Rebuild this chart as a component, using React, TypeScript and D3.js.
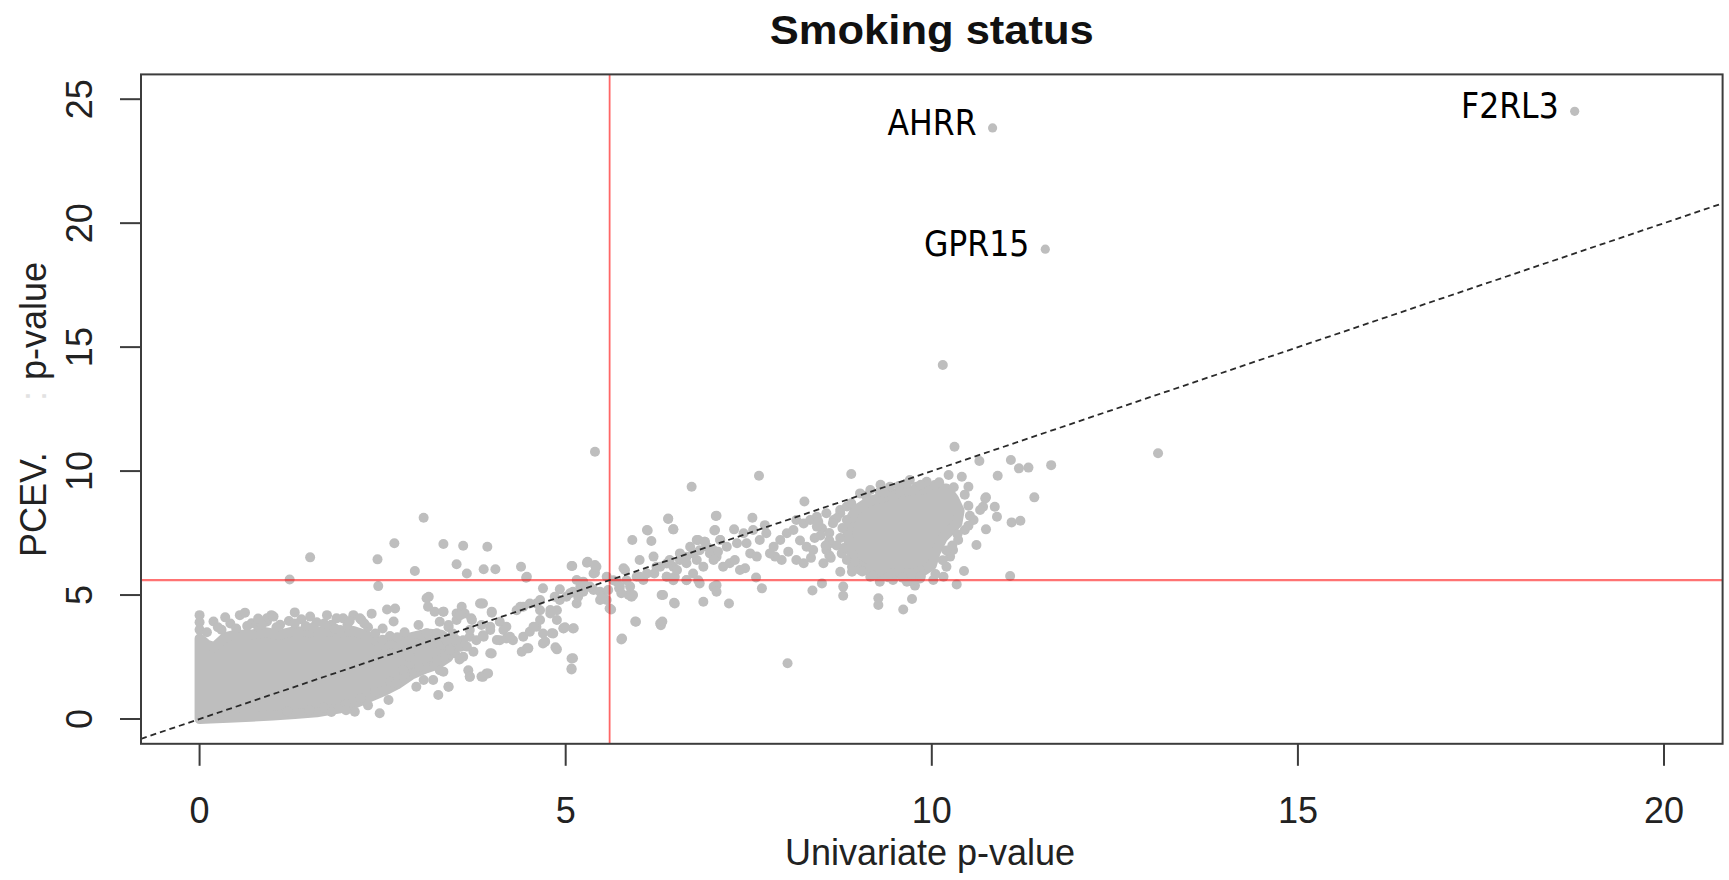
import React from "react";
import * as d3 from "d3";

// ---------- data ----------
const xTicks = [0, 5, 10, 15, 20];
const yTicks = [0, 5, 10, 15, 20, 25];
const xDomain: [number, number] = [-0.8, 20.8];
const yDomain: [number, number] = [-1, 26];
const threshold = 5.6; // -log10(0.05 / 20000)
const titleText = "Smoking status";
const xTitle = "Univariate p-value";

const labeledGenes = ["AHRR", "GPR15", "F2RL3"];
const labeledUni = [10.83, 11.55, 18.78];
const labeledPcev = [23.84, 18.95, 24.51];

// outline of the dense mass of overlapping points near the origin
const denseCoreOutline: [number, number][] = [
  [0, 0], [0, 3.25], [0.1, 3.0], [0.2, 2.9], [0.35, 3.3], [0.5, 3.4], [0.7, 3.4], [0.9, 3.5],
  [1.1, 3.4], [1.3, 3.55], [1.5, 3.5], [1.7, 3.55], [1.9, 3.5], [2.1, 3.55], [2.3, 3.35],
  [2.5, 3.0], [2.7, 3.05], [2.9, 3.3], [3.1, 3.45], [3.3, 3.4], [3.4, 3.2],
  [3.4, 2.5], [3.25, 2.2], [3.1, 2.05], [2.9, 1.8], [2.7, 1.4], [2.5, 1.1], [2.3, 0.85],
  [2.1, 0.6], [1.9, 0.42], [1.6, 0.27], [1.3, 0.2], [1.0, 0.14], [0.7, 0.09], [0.4, 0.05], [0.15, 0.02],
];

// outline of the dense core of the cluster of significant sites
const denseClusterOutline: [number, number][] = [
  [8.95, 8.4], [9.15, 8.8], [9.4, 9.0], [9.65, 9.2], [9.95, 9.3], [10.2, 9.3], [10.3, 8.9],
  [10.38, 8.4], [10.35, 7.9], [10.15, 7.3], [10.05, 6.7], [10.0, 6.2], [9.85, 5.9], [9.5, 5.85],
  [9.2, 5.9], [9.0, 6.2], [8.88, 6.8], [8.85, 7.5], [8.88, 8.0],
];

const lowTailPoints: [number, number][] = [
  [0.0, 4.19], [0.19, 3.93], [0.55, 4.19], [0.62, 4.29], [0.71, 3.86], [0.92, 3.93], [0.98, 4.19],
  [1.39, 4.02], [1.51, 4.13], [1.74, 4.19], [1.96, 4.06], [2.10, 4.19], [2.21, 3.99], [1.92, 3.59],
  [2.56, 4.42], [2.67, 4.46], [2.65, 3.93], [3.10, 4.87], [3.12, 4.53], [3.21, 4.33], [3.33, 4.33],
  [2.99, 3.79], [3.51, 4.26], [0.0, 3.6], [0.0, 3.9], [0.1, 3.5], [0.3, 3.6], [0.42, 3.85], [0.8, 3.7],
  [1.1, 3.8], [1.22, 3.95], [1.6, 3.9], [1.8, 3.8], [2.3, 3.7], [2.4, 3.45], [1.45, 3.75], [2.02, 3.8],
  [0.92, 4.06], [1.01, 4.13], [1.87, 4.06], [2.19, 4.06],
  [0.25, 3.7], [0.5, 3.65], [0.65, 3.75], [0.85, 3.8], [1.05, 3.7], [1.3, 3.85], [1.55, 3.7],
  [1.7, 3.85], [1.85, 3.65], [2.05, 3.95], [2.25, 3.85], [2.5, 3.65], [2.6, 3.35], [2.35, 4.25],
  [1.3, 4.3], [0.35, 4.1], [0.8, 4.05], [2.5, 3.2], [2.7, 3.3], [2.8, 3.5], [3.4, 3.7], [3.5, 3.0],
  [1.2, 0.3], [1.5, 0.35], [1.7, 0.45], [2.0, 0.6], [2.2, 0.85], [2.4, 1.1], [2.6, 1.5], [2.8, 1.8],
  [3.0, 2.1], [3.2, 2.2], [3.4, 2.6], [2.85, 2.2], [3.55, 2.4], [3.3, 3.0],
  [2.12, 0.29], [2.46, 0.23], [2.58, 0.77], [2.96, 1.30], [3.26, 0.97], [3.40, 1.30], [3.33, 1.91],
  [3.69, 1.71], [3.85, 1.71], [3.92, 1.84], [3.97, 2.65], [3.06, 1.57], [3.19, 1.57], [2.78, 1.98],
  [2.69, 1.44], [2.87, 2.51], [2.3, 0.55], [2.0, 0.35], [1.8, 0.28],
  [1.23, 5.63], [1.51, 6.52], [2.43, 6.44], [2.44, 5.36], [2.94, 5.97], [3.06, 8.12], [2.66, 7.09],
  [3.33, 7.06], [3.60, 6.99], [3.93, 6.95], [3.51, 6.24], [3.65, 5.87], [3.88, 6.04], [4.04, 6.04],
  [4.39, 6.14], [4.46, 5.70], [5.09, 6.17], [5.30, 6.34], [3.13, 4.93],
];

const midBandPoints: [number, number][] = [
  [3.33, 4.33], [3.28, 3.92], [3.40, 3.79], [3.51, 3.99], [3.58, 4.53], [3.62, 4.26], [3.71, 4.06],
  [3.83, 4.66], [3.87, 4.66], [3.99, 4.33], [3.85, 3.79], [3.97, 3.72], [4.10, 3.92], [4.19, 3.72],
  [4.33, 4.39], [4.42, 4.53], [4.51, 4.66], [4.60, 4.66], [4.65, 4.39], [4.79, 4.26], [4.88, 4.39],
  [4.85, 4.93], [4.88, 3.99], [4.92, 4.80], [5.01, 4.93], [5.10, 5.13], [5.20, 5.33], [5.29, 5.33],
  [5.38, 5.20], [5.15, 4.66], [5.24, 5.13], [5.38, 5.87], [5.42, 6.14], [5.47, 5.13], [5.51, 4.93],
  [5.56, 4.80], [5.60, 4.46],
  [3.37, 3.18], [3.46, 3.45], [3.60, 3.18], [3.69, 3.32], [3.78, 3.18], [3.87, 3.38], [3.97, 3.59],
  [4.10, 3.18], [4.19, 3.25], [4.28, 3.18], [4.42, 3.32], [4.51, 3.52], [4.60, 3.72], [4.69, 3.45],
  [4.83, 3.45], [4.97, 3.65], [5.10, 3.65], [4.65, 3.99], [4.69, 3.05], [4.88, 2.81], [5.08, 2.44],
  [5.08, 2.00], [4.47, 2.85], [4.40, 2.71], [3.99, 2.64], [3.87, 1.70], [3.94, 1.84], [3.67, 1.97],
  [3.69, 1.70], [3.40, 1.30], [3.28, 1.97], [3.33, 2.51], [3.49, 2.64], [3.60, 2.51], [3.74, 2.71],
  [3.56, 2.91],
  [3.56, 4.19], [3.72, 3.99], [3.85, 4.66], [3.99, 4.29], [4.15, 3.59], [4.24, 3.32], [4.06, 3.19],
  [3.88, 3.32], [3.69, 3.59], [3.51, 3.19], [3.65, 2.92], [3.42, 2.78], [3.24, 2.38], [3.10, 3.46],
  [2.96, 3.05], [3.24, 3.46], [4.49, 2.85], [4.72, 3.12], [4.81, 3.46], [4.97, 3.66], [5.10, 2.45],
  [4.56, 3.72], [4.38, 4.53], [4.65, 4.80], [4.79, 4.40], [5.06, 5.07], [5.17, 4.93], [5.33, 5.34],
  [5.47, 4.80], [5.58, 5.20], [5.70, 5.54], [5.88, 5.34], [6.06, 5.61], [5.90, 4.93], [4.69, 5.27],
  [4.92, 5.23], [5.08, 6.17], [5.29, 6.30], [5.40, 6.21], [5.40, 5.90], [5.24, 5.54], [5.79, 6.08],
  [6.01, 6.41], [5.97, 5.74], [5.95, 3.93], [5.77, 3.25], [5.08, 2.04], [4.47, 5.74],
  [5.62, 4.42], [5.49, 4.87], [5.11, 3.66], [4.99, 3.70], [4.86, 2.89], [5.41, 6.14], [5.56, 5.74],
  [5.15, 5.61], [5.73, 5.27], [5.86, 5.00], [6.21, 5.87], [6.20, 6.55], [6.12, 7.6], [5.91, 7.22],
  [6.47, 7.65],
  [5.65, 5.60], [5.74, 5.33], [5.76, 5.07], [5.92, 5.00], [5.81, 6.01], [6.11, 7.62], [6.17, 7.18],
  [6.40, 8.09], [6.72, 9.37], [7.05, 8.19], [7.04, 7.62], [6.79, 7.22], [6.90, 7.15], [5.83, 5.60],
  [6.01, 5.74], [6.11, 5.87], [6.24, 6.14], [6.38, 6.27], [6.47, 6.14], [6.56, 6.41], [6.65, 6.54],
  [6.74, 6.68], [6.83, 6.81], [6.93, 6.95], [7.02, 6.81], [7.06, 6.54], [7.11, 7.22], [6.38, 5.74],
  [6.47, 5.60], [6.65, 5.60], [6.81, 5.60], [7.02, 5.33], [6.31, 5.00], [6.49, 4.66], [6.88, 4.73],
  [5.96, 3.92], [6.29, 3.85], [6.30, 3.78], [5.76, 3.21], [6.32, 3.93],
];

const clusterBandPoints: [number, number][] = [
  [7.64, 9.81], [8.90, 9.88], [8.26, 8.77], [6.40, 8.07], [6.47, 7.65], [7.06, 8.20], [7.03, 7.60],
  [7.55, 8.12], [7.30, 7.65], [7.72, 7.82],
  [6.33, 5.00], [6.48, 4.69], [7.23, 4.66], [7.06, 5.40], [7.06, 5.13], [7.68, 5.27], [7.60, 5.71],
  [8.37, 5.18], [8.50, 5.47], [8.79, 5.34], [8.79, 4.97], [8.75, 5.94], [8.91, 5.94], [9.27, 4.87],
  [9.27, 4.60], [9.61, 4.42], [9.73, 4.84], [9.77, 5.38], [6.83, 5.47], [6.65, 5.61], [6.49, 5.74],
  [8.03, 2.25],
  [6.38, 5.74], [6.52, 6.01], [6.65, 6.28], [6.79, 6.41], [6.81, 7.22], [6.90, 7.15], [6.97, 6.68],
  [7.08, 6.75], [7.15, 6.14], [7.24, 6.28], [7.31, 6.41], [7.38, 6.01], [7.45, 6.08], [7.34, 7.09],
  [7.47, 7.09], [7.52, 6.68], [7.61, 6.55], [7.65, 7.22], [7.74, 7.49], [7.84, 6.95], [7.86, 6.55],
  [7.93, 7.22], [8.04, 6.75], [8.02, 7.49], [8.25, 6.28], [8.29, 6.95], [8.38, 6.82], [8.52, 6.28],
  [8.56, 6.82], [8.61, 7.09], [8.50, 7.69], [8.66, 8.03], [8.11, 7.62], [8.15, 8.03], [8.25, 7.89],
  [8.34, 8.03], [8.43, 7.76], [8.43, 8.16], [8.56, 8.30], [8.75, 8.43], [8.84, 8.03],
  [6.29, 6.14], [6.42, 6.41], [6.56, 6.68], [6.70, 6.95], [6.74, 5.87], [6.88, 6.14], [7.02, 6.41],
  [7.11, 7.22], [7.20, 6.95], [7.43, 7.49], [7.56, 7.62], [7.79, 6.68], [7.95, 6.41], [8.15, 6.41],
  [8.2, 7.2], [8.4, 7.3], [8.6, 7.5], [8.35, 6.5], [8.6, 6.6], [8.7, 7.0],
];

const clusterEdgePoints: [number, number][] = [
  [10.31, 10.98], [10.65, 10.41], [11.08, 10.45], [11.19, 10.11], [11.32, 10.14], [11.63, 10.24],
  [13.09, 10.72], [10.90, 9.81], [11.40, 8.94], [10.74, 8.94], [10.70, 8.56], [10.86, 8.56],
  [10.89, 8.16], [11.09, 7.93], [11.21, 8.0], [10.74, 7.65], [10.61, 7.02], [10.44, 5.97],
  [11.07, 5.77], [10.34, 5.43], [10.41, 9.77], [10.5, 9.37], [10.23, 9.84],
  [9.57, 9.37], [9.7, 9.64], [9.84, 6.01], [9.75, 5.61], [10.16, 5.74], [10.57, 8.03], [10.66, 8.43],
  [10.73, 8.9], [10.45, 7.62], [10.36, 7.22], [10.29, 6.82], [10.25, 6.55], [10.2, 6.14],
  [9.02, 9.1], [9.16, 9.24], [9.29, 9.17], [9.43, 9.37], [9.57, 9.17], [9.66, 9.5], [9.79, 9.37],
  [9.93, 9.57], [10.04, 9.44], [8.84, 8.57], [8.75, 8.30],
  [9.16, 5.74], [9.29, 5.54], [9.47, 5.61], [9.66, 5.54], [9.84, 5.67], [10.02, 5.61], [9.02, 6.01],
  [8.91, 6.14], [8.84, 6.41], [8.77, 6.68],
  [8.9, 8.7], [9.1, 9.0], [9.35, 9.15], [9.55, 9.4], [9.85, 9.45], [10.1, 9.55], [10.3, 9.35],
  [9.3, 9.45], [10.45, 9.05], [10.5, 8.6], [10.52, 8.2], [10.5, 7.8], [10.35, 7.45], [10.28, 7.0],
  [10.15, 6.4], [10.2, 6.8], [10.05, 5.85], [9.85, 5.75], [9.6, 5.7], [9.4, 5.72], [9.2, 5.78],
  [9.05, 5.95], [8.95, 6.35], [8.8, 6.9], [8.75, 7.3], [8.78, 7.7], [8.7, 8.1], [8.65, 7.9],
  [8.6, 7.2], [8.62, 6.5], [8.55, 7.0], [8.48, 7.4], [8.45, 7.95],
];

const outlierPoints: [number, number][] = [
  [10.15, 14.28], [5.40, 10.78],
];

// ---------- drawing ----------
const W = 1729;
const H = 880;
const plotLeft = 141;
const plotRight = 1722.6;
const plotTop = 74.4;
const plotBottom = 743.8;
const pointColor = "#bebebe";
const pointR = 5;
const axisColor = "#3c3c3c";
const sansFont = "'Liberation Sans', Arial, Helvetica, sans-serif";
const labelFont = "'DejaVu Sans Condensed', 'DejaVu Sans', sans-serif";

export default function App() {
  const x = d3.scaleLinear().domain(xDomain).range([plotLeft, plotRight]);
  const y = d3.scaleLinear().domain(yDomain).range([plotBottom, plotTop]);
  const outline = d3
    .line<[number, number]>()
    .x((d) => x(d[0]))
    .y((d) => y(d[1]))
    .curve(d3.curveLinearClosed);
  const diag = d3
    .line<number>()
    .x((d) => x(d))
    .y((d) => y(d));

  const allPoints = [
    ...lowTailPoints,
    ...midBandPoints,
    ...clusterBandPoints,
    ...clusterEdgePoints,
    ...outlierPoints,
  ];

  return (
    <div style={{ position: "absolute", left: 0, top: 0, width: W, height: H, background: "#fff" }}>
      <svg width={W} height={H} viewBox={`0 0 ${W} ${H}`} style={{ display: "block" }}>
        <defs>
          <clipPath id="plotClip">
            <rect x={plotLeft} y={plotTop} width={plotRight - plotLeft} height={plotBottom - plotTop} />
          </clipPath>
        </defs>
        <rect x={0} y={0} width={W} height={H} fill="#fff" />

        <g clipPath="url(#plotClip)">
          {[denseCoreOutline, denseClusterOutline].map((poly, i) => (
            <path
              key={"poly" + i}
              d={outline(poly) || ""}
              fill={pointColor}
              stroke={pointColor}
              strokeWidth={pointR * 2}
              strokeLinejoin="round"
            />
          ))}
          {allPoints.map((p, i) => (
            <circle key={"p" + i} cx={x(p[0])} cy={y(p[1])} r={pointR} fill={pointColor} />
          ))}
          {labeledUni.map((u, i) => (
            <circle key={"lp" + i} cx={x(u)} cy={y(labeledPcev[i])} r={pointR - 0.4} fill={pointColor} />
          ))}

          {/* threshold lines */}
          <line
            x1={plotLeft}
            x2={plotRight}
            y1={y(threshold)}
            y2={y(threshold)}
            stroke="rgba(255,0,0,0.55)"
            strokeWidth={2.2}
          />
          <line
            x1={x(threshold)}
            x2={x(threshold)}
            y1={plotTop}
            y2={plotBottom}
            stroke="rgba(255,0,0,0.6)"
            strokeWidth={1.8}
          />
          {/* identity line */}
          <path
            d={diag(xDomain) || ""}
            fill="none"
            stroke="#2a2a2a"
            strokeWidth={1.8}
            strokeDasharray="6 4"
          />
        </g>

        {/* gene labels */}
        {labeledGenes.map((g, i) => (
          <text
            key={g}
            x={x(labeledUni[i]) - 16}
            y={y(labeledPcev[i]) + 7}
            textAnchor="end"
            fontFamily={labelFont}
            fontStretch="condensed"
            fontSize={35}
            fill="#000"
          >
            {g}
          </text>
        ))}

        {/* box */}
        <rect
          x={plotLeft}
          y={plotTop}
          width={plotRight - plotLeft}
          height={plotBottom - plotTop}
          fill="none"
          stroke={axisColor}
          strokeWidth={2}
        />

        {/* x axis */}
        {xTicks.map((t) => (
          <g key={"xt" + t}>
            <line x1={x(t)} x2={x(t)} y1={plotBottom} y2={plotBottom + 22} stroke={axisColor} strokeWidth={2} />
            <text x={x(t)} y={823} textAnchor="middle" fontFamily={sansFont} fontSize={36} fill="#222">
              {t}
            </text>
          </g>
        ))}
        {/* y axis */}
        {yTicks.map((t) => (
          <g key={"yt" + t}>
            <line x1={plotLeft - 21} x2={plotLeft} y1={y(t)} y2={y(t)} stroke={axisColor} strokeWidth={2} />
            <text
              transform={`translate(92,${y(t)}) rotate(-90)`}
              textAnchor="middle"
              fontFamily={sansFont}
              fontSize={36}
              fill="#222"
            >
              {t}
            </text>
          </g>
        ))}

        {/* axis titles */}
        <text x={930} y={865} textAnchor="middle" fontFamily={sansFont} fontSize={36} fill="#222">
          {xTitle}
        </text>
        <text transform="translate(46,557) rotate(-90)" textAnchor="start" fontFamily={sansFont} fontSize={36} fill="#222">
          PCEV.
        </text>
        <text transform="translate(46,401) rotate(-90)" textAnchor="start" fontFamily={sansFont} fontSize={36} fill="#e2e2e2">
          :
        </text>
        <text transform="translate(46,380) rotate(-90)" textAnchor="start" fontFamily={sansFont} fontSize={36} fill="#222">
          p-value
        </text>

        {/* title */}
        <text
          x={(plotLeft + plotRight) / 2}
          y={43.5}
          textAnchor="middle"
          fontFamily={sansFont}
          fontWeight="bold"
          fontSize={40}
          textLength={324}
          lengthAdjust="spacingAndGlyphs"
          fill="#111"
        >
          {titleText}
        </text>
      </svg>
    </div>
  );
}
